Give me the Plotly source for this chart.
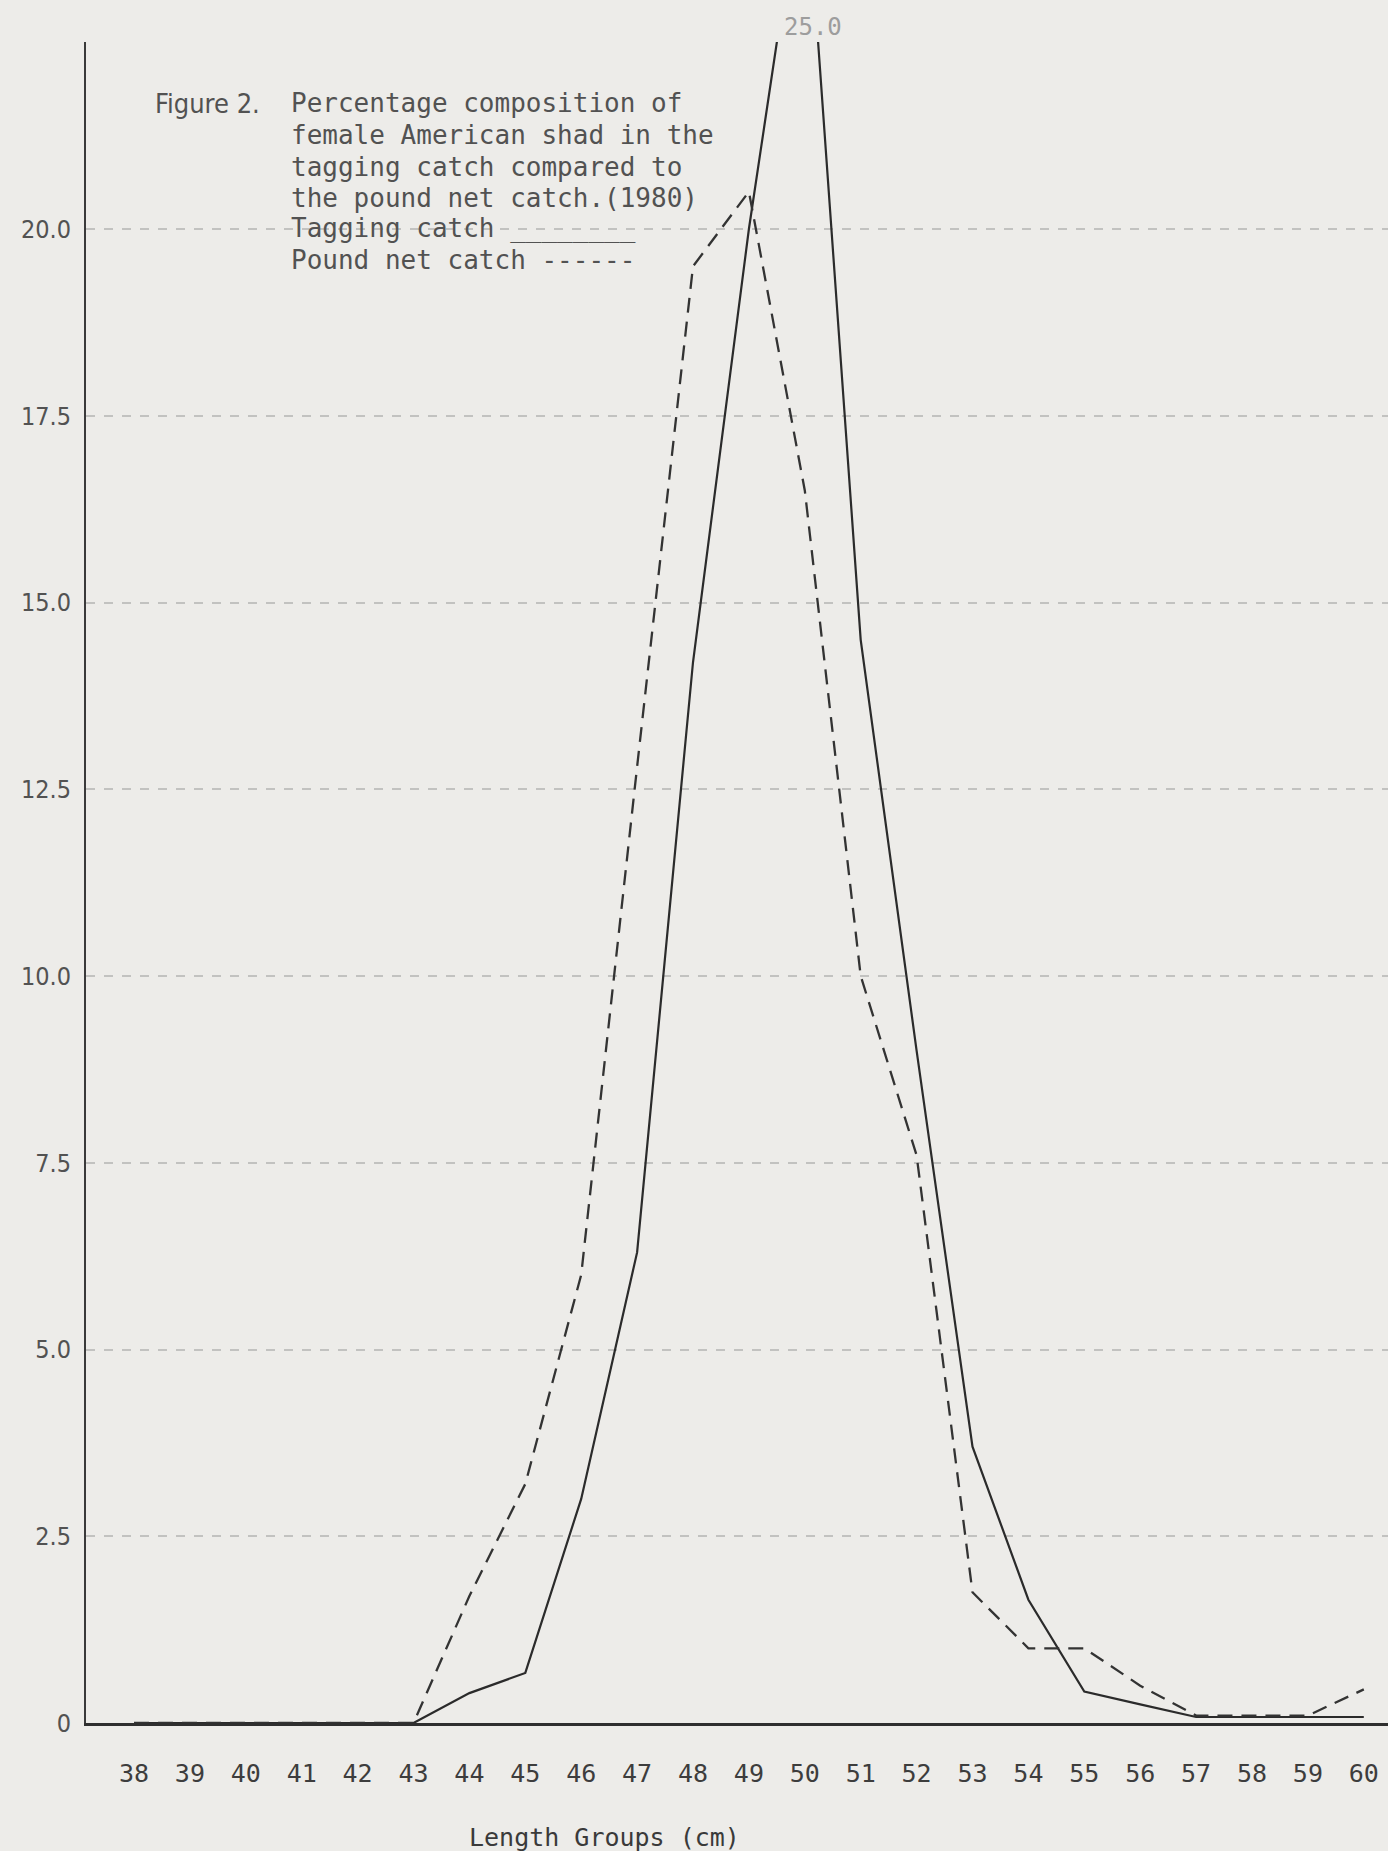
import plotly.graph_objects as go

# ---- data ----
lengths = list(range(38, 61))
tick_labels = [str(v) for v in lengths]
tagging_catch = [0, 0, 0, 0, 0, 0, 0.4, 0.67, 3.0, 6.3, 14.2, 20.0, 25.0, 14.5,
                 9.0, 3.7, 1.65, 0.42, 0.25, 0.08, 0.08, 0.08, 0.08]
pound_net_catch = [0, 0, 0, 0, 0, 0, 1.7, 3.2, 6.0, 12.8, 19.5, 20.5, 16.5, 10.0,
                   7.6, 1.75, 1.0, 1.0, 0.5, 0.1, 0.1, 0.1, 0.45]
y_ticks = [0, 2.5, 5.0, 7.5, 10.0, 12.5, 15.0, 17.5, 20.0]
y_tick_text = ["0", "2.5", "5.0", "7.5", "10.0", "12.5", "15.0", "17.5", "20.0"]
title_lines = [
    "Percentage composition of",
    "female American shad in the",
    "tagging catch compared to",
    "the pound net catch.(1980)",
    "Tagging catch ________",
    "Pound net catch ------",
]

# ---- geometry ----
W, H = 1388, 1851
L, R, T, B = 86, 0, 42, 128
PW, PH = W - L - R, H - T - B
px_per_x = 55.9
x0 = 38 - (134 - L) / px_per_x
x1 = x0 + PW / px_per_x
y_top = PH / 74.7

BG = "#edece9"
MONO = "DejaVu Sans Mono, Liberation Mono, monospace"
NARROW = "Liberation Sans Narrow, DejaVu Sans Condensed, Roboto, sans-serif"
TXT = "#525252"

fig = go.Figure()
fig.add_trace(go.Scatter(
    x=lengths, y=tagging_catch, mode="lines", name="Tagging catch",
    line=dict(color="#2b2b2b", width=2.2), showlegend=False))
fig.add_trace(go.Scatter(
    x=lengths, y=pound_net_catch, mode="lines", name="Pound net catch",
    line=dict(color="#333333", width=2.3, dash="15px,9px"), showlegend=False))


def py(v):
    return (H - B - v) / PH


def pxx(v):
    return (v - L) / PW


ann = []
ann.append(dict(text="Figure 2.", x=pxx(153), y=py(103), xref="paper", yref="paper",
                xanchor="left", yanchor="middle", showarrow=False,
                font=dict(family=NARROW, size=27, color=TXT)))
line_y = [103, 135, 167, 198, 229, 260]
for txt, yy in zip(title_lines, line_y):
    ann.append(dict(text=txt, x=pxx(289), y=py(yy), xref="paper", yref="paper",
                    xanchor="left", yanchor="middle", showarrow=False,
                    font=dict(family=MONO, size=26, color=TXT)))
# peak value label (line is clipped at top)
peak_i = tagging_catch.index(max(tagging_catch))
ann.append(dict(text=f"{max(tagging_catch):.1f}", x=lengths[peak_i] + 0.15, y=1 + 15 / PH,
                xref="x", yref="paper", xanchor="center", yanchor="middle",
                showarrow=False, font=dict(family=MONO, size=24, color="#9d9d9d")))
# x-axis title
ann.append(dict(text="Length Groups (cm)", x=pxx(604), y=-(1837 - (H - B)) / PH,
                xref="paper", yref="paper", xanchor="center", yanchor="middle",
                showarrow=False, font=dict(family=MONO, size=25, color="#3a3a3a")))

fig.update_layout(
    width=W, height=H,
    margin=dict(l=L, r=R, t=T, b=B, pad=0),
    paper_bgcolor=BG, plot_bgcolor=BG,
    annotations=ann,
    xaxis=dict(range=[x0, x1], tickvals=lengths, ticktext=tick_labels,
               showgrid=False, zeroline=False, showline=True, linecolor="#2f2f2f",
               linewidth=3, ticks="outside", ticklen=26, tickcolor="rgba(0,0,0,0)",
               tickfont=dict(family=MONO, size=25, color="#3d3d3d")),
    yaxis=dict(range=[0, y_top], tickvals=y_ticks, ticktext=y_tick_text,
               showgrid=True, gridcolor="#c2c2c0", gridwidth=1.6, griddash="dash",
               zeroline=False, showline=True, linecolor="#3a3a3a", linewidth=2,
               ticks="outside", ticklen=8, tickcolor="rgba(0,0,0,0)",
               tickfont=dict(family=NARROW, size=25, color=TXT)),
)

fig.write_html("out.html", config={"displayModeBar": False},
               post_script="document.body.style.margin='0';")
